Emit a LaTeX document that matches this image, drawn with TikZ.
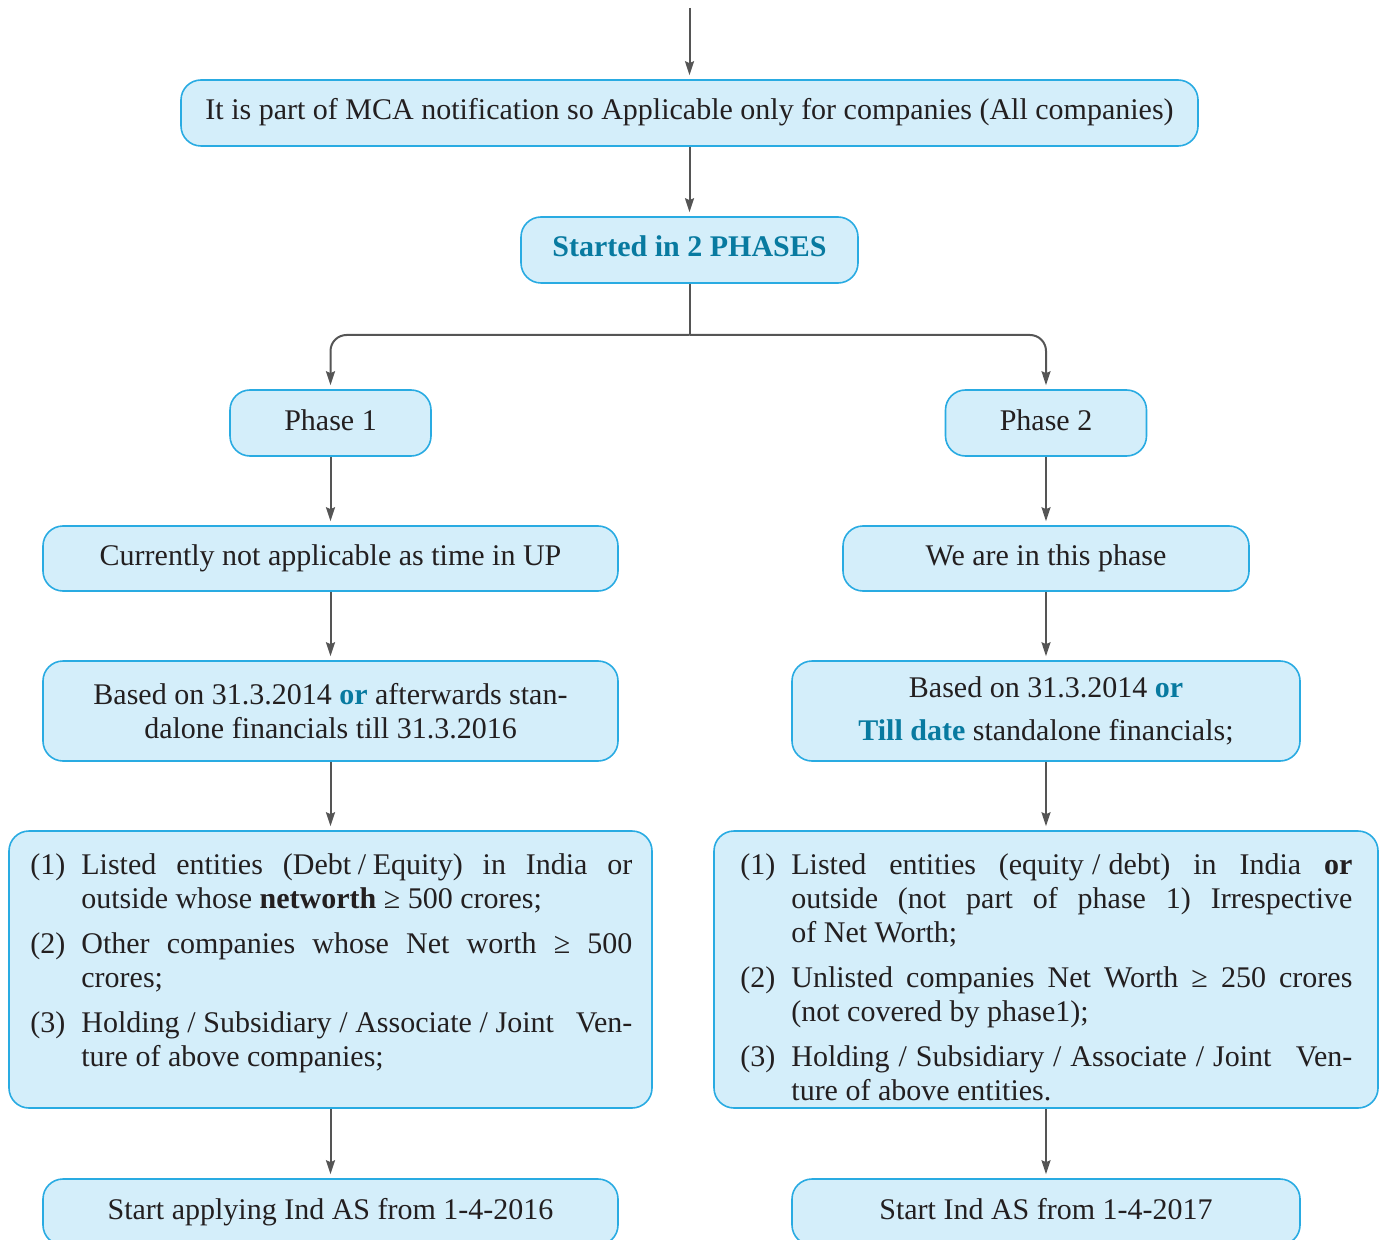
\documentclass[tikz,border=0pt]{standalone}
\usepackage{fontspec}
\setmainfont{Liberation Serif}
\usetikzlibrary{arrows.meta}
\definecolor{boxfill}{RGB}{212,238,250}
\definecolor{boxline}{RGB}{41,171,226}
\definecolor{hiblue}{RGB}{8,122,160}
\definecolor{inkc}{RGB}{35,31,32}
\definecolor{arrc}{RGB}{85,85,85}
\newcommand{\hb}[1]{\textbf{\color{hiblue}#1}}
\newcommand{\sla}{\nobreak\hskip 0pt plus 1pt/\nobreak\hskip 0pt plus 1pt\relax}
\newcommand{\itm}[2]{\par\hangindent=25.5pt\hangafter=1\noindent\makebox[25.5pt][l]{#1}#2\par}
\newcommand{\listsetup}{\setlength{\parskip}{5.5pt}\tolerance=10000\hyphenpenalty=10000\relax}
\begin{document}
\begin{tikzpicture}[x=0.5pt,y=-0.5pt,
  box/.style={draw=boxline, fill=boxfill, line width=0.8pt, rounded corners=10pt,
    inner sep=0pt, align=center, text=inkc, font=\fontsize{15}{17}\selectfont},
  oneline/.style={text height=10.5pt, text depth=3.5pt},
  arr/.style={draw=arrc, line width=1pt, -{Stealth[length=7pt,width=4.5pt,inset=1pt]}, shorten >=2pt},
  plain/.style={draw=arrc, line width=1pt},
  listtext/.style={inner sep=0pt, anchor=north west, text=inkc,
    font=\fontsize{15}{17}\selectfont, align=justify}]
\useasboundingbox (0,0) rectangle (1379,1240);
\clip (0,0) rectangle (1379,1240);

% boxes
\node[box, oneline, minimum width=508.5pt, minimum height=33pt] (A) at (689.5,113)
  {It is part of MCA notification so Applicable only for companies (All companies)};
\node[box, oneline, minimum width=168.5pt, minimum height=33pt] (B) at (689.5,250)
  {\hb{Started in 2 PHASES}};
\node[box, oneline, minimum width=100.5pt, minimum height=33pt] (P1) at (330.5,423) {Phase 1};
\node[box, oneline, minimum width=100.5pt, minimum height=33pt] (P2) at (1046,423) {Phase 2};
\node[box, oneline, minimum width=287.5pt, minimum height=32.5pt] (C1) at (330.5,558.5)
  {Currently not applicable as time in UP};
\node[box, oneline, minimum width=203pt, minimum height=32.5pt] (C2) at (1046,558.5)
  {We are in this phase};
\node[box, minimum width=287.5pt, minimum height=50pt] (D1) at (330.5,711)
  {Based on 31.3.2014 \hb{or} afterwards stan-\\dalone financials till 31.3.2016};
\node[box, minimum width=254pt, minimum height=50pt] (D2) at (1046,711)
  {Based on 31.3.2014 \hb{or}\\[4.5pt]\hb{Till date} standalone financials;};
\node[box, minimum width=321.5pt, minimum height=138.5pt] (E1) at (330.5,969.5) {};
\node[box, minimum width=332pt, minimum height=138.5pt] (E2) at (1046,969.5) {};
\node[box, oneline, minimum width=287.5pt, minimum height=33pt] (F1) at (330.5,1212)
  {Start applying Ind AS from 1-4-2016};
\node[box, oneline, minimum width=254pt, minimum height=33pt] (F2) at (1046,1212)
  {Start Ind AS from 1-4-2017};

% list texts
\node[listtext, text width=301pt] (E1t) at (30,829) {\listsetup
  \itm{(1)}{Listed entities (Debt\sla Equity) in India or\linebreak outside whose \textbf{networth} ≥ 500 crores;}
  \itm{(2)}{Other companies whose Net worth ≥ 500\linebreak crores;}
  \itm{(3)}{Holding\sla Subsidiary\sla Associate\sla Joint Ven-\linebreak ture of above companies;}};
\node[listtext, text width=306pt] (E2t) at (740,829) {\listsetup
  \itm{(1)}{Listed entities (equity\sla debt) in India \textbf{or}\linebreak outside (not part of phase 1) Irrespective\linebreak of Net Worth;}
  \itm{(2)}{Unlisted companies Net Worth ≥ 250 crores\linebreak (not covered by phase1);}
  \itm{(3)}{Holding\sla Subsidiary\sla Associate\sla Joint Ven-\linebreak ture of above entities.}};

% connectors
\coordinate (top) at (689.5,8);
\coordinate (split) at (689.5,335);
\draw[arr] (top) -- (A);
\draw[arr] (A) -- (B);
\draw[plain] (B.south) -- (split);
\draw[arr, rounded corners=8pt] (split) -| (P1.north);
\draw[arr, rounded corners=8pt] (split) -| (P2.north);
\draw[arr] (P1) -- (C1);
\draw[arr] (P2) -- (C2);
\draw[arr] (C1) -- (D1);
\draw[arr] (C2) -- (D2);
\draw[arr] (D1) -- (E1);
\draw[arr] (D2) -- (E2);
\draw[arr] (E1) -- (F1);
\draw[arr] (E2) -- (F2);
\end{tikzpicture}
\end{document}
